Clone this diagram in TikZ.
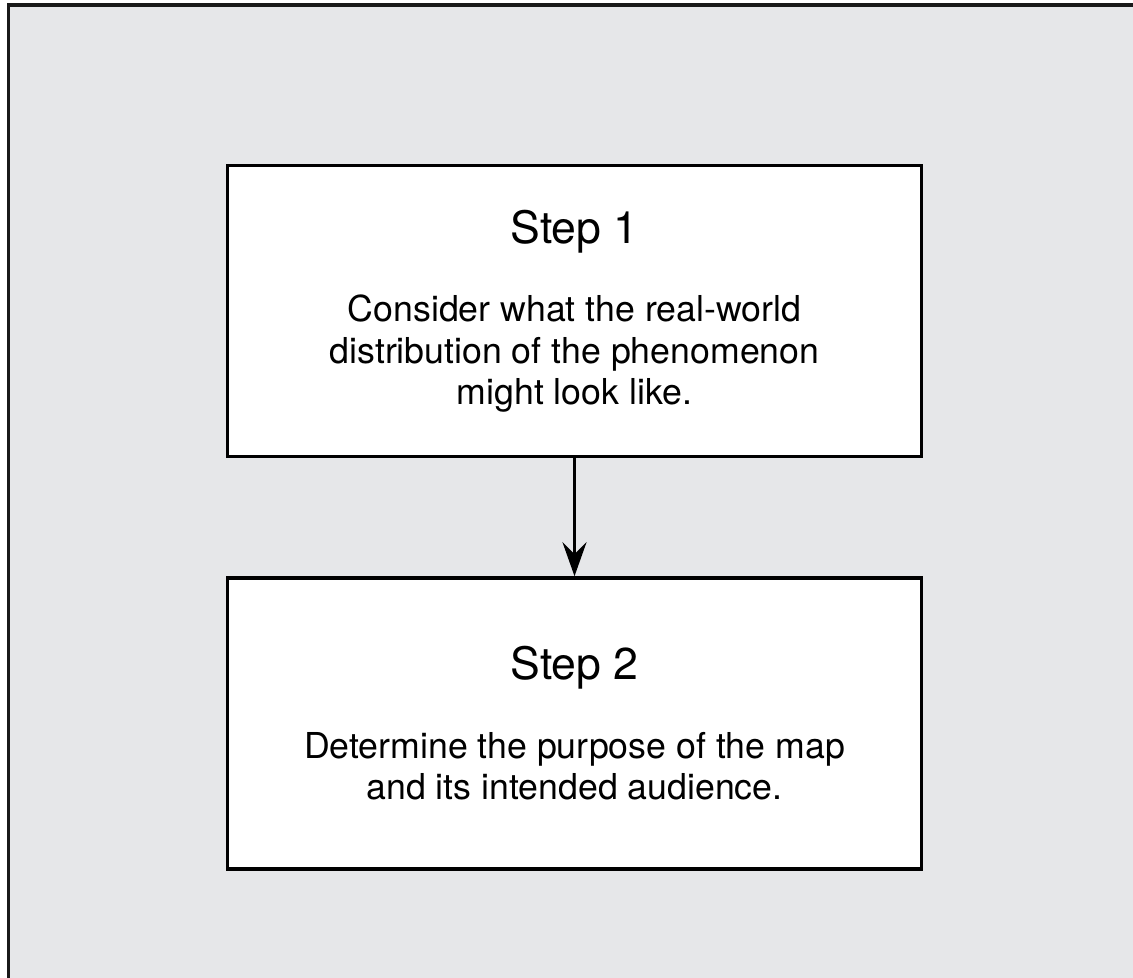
\documentclass[tikz,border=0pt]{standalone}
\usepackage{fontspec}
\setmainfont{TeX Gyre Heros}
\usepackage{xcolor}
\usepackage{tikz}
\usetikzlibrary{arrows.meta,positioning}

\definecolor{panelgray}{RGB}{230,231,233}
\newcommand{\steptitle}[1]{{\fontsize{22.3}{26}\selectfont #1}}

\begin{document}
\begin{tikzpicture}[x=0.5pt, y=-0.5pt, node distance=59pt, >={Stealth[length=17pt, width=12pt, inset=6pt]}]
    \tikzstyle{stepbox} = [rectangle, minimum width=347pt, minimum height=145.5pt, text centered, align=center, draw=black, line width=1.7pt, fill=white, font=\fontsize{17.85}{20.75}\selectfont]
    \tikzstyle{arrow} = [line width=1.7pt,->]

    \useasboundingbox (0,0) rectangle (1133,978);
    \clip (0,0) rectangle (1133,978);
    \draw[fill=panelgray, draw=black!90, line width=1.6pt] (8.5,5) rectangle (1160,1000);

    \node[stepbox] (step1) at (574.5,311) {\steptitle{Step 1}\\[18.5pt]Consider what the real-world\\distribution of the phenomenon\\might look like.};
    \node[stepbox, below=of step1] (step2) {\steptitle{Step 2}\\[18.5pt]Determine the purpose of the map\\and its intended audience.};

    \draw[arrow] (step1) -- (step2);
\end{tikzpicture}
\end{document}
